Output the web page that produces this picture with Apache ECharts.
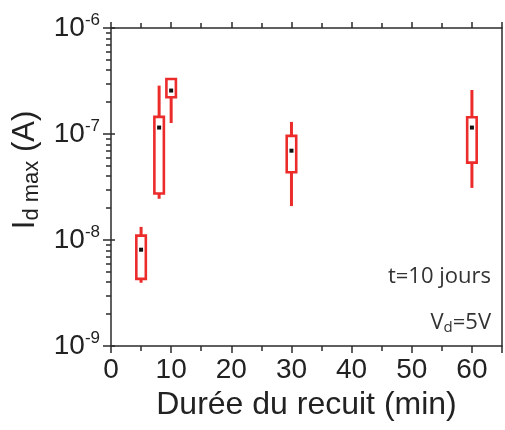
<!DOCTYPE html>
<html><head><meta charset="utf-8">
<script src="https://cdn.jsdelivr.net/npm/echarts@6/dist/echarts.min.js"></script>
<style>html,body{margin:0;padding:0;background:#fff}#c{width:505px;height:430px}</style>
</head><body><div id="c"></div>
<script>
// Data (annealing duration in min; Id max in A)
const durations = [5, 8, 10, 30, 60];
const whiskerLow = [3.95e-9, 2.45e-8, 1.27e-7, 2.09e-8, 3.1e-8];
const boxLow = [4.3e-9, 2.75e-8, 2.22e-7, 4.35e-8, 5.37e-8];
const meanVal = [8.1e-9, 1.15e-7, 2.57e-7, 6.96e-8, 1.15e-7];
const boxHigh = [1.1e-8, 1.45e-7, 3.3e-7, 9.6e-8, 1.44e-7];
const whiskerHigh = [1.33e-8, 2.86e-7, 3.3e-7, 1.3e-7, 2.6e-7];
const majorTicks = [1e-9, 1e-8, 1e-7, 1e-6];
const minorMultipliers = [2, 3, 4, 5, 6, 7, 8, 9];
const xTickLabels = ['0', '10', '20', '30', '40', '50', '60'];

const RED = '#ec2b2b';
const AX = '#2b2b2b';
const FONT = '"Liberation Sans", Arial, sans-serif';

const boxData = durations.map((d, i) => [d, whiskerLow[i], boxLow[i], meanVal[i], boxHigh[i], whiskerHigh[i]]);
const minorTickValues = [];
majorTicks.slice(0, 3).forEach(v => minorMultipliers.forEach(m => minorTickValues.push(v * m)));

const chart = echarts.init(document.getElementById('c'), null, {renderer: 'canvas'});
chart.setOption({
  animation: false,
  grid: {left: 111, right: 2, top: 28, bottom: 84},
  xAxis: [{
    type: 'value', min: 0, max: 65, interval: 10, position: 'bottom',
    axisLine: {show: true, lineStyle: {color: AX, width: 1.5}},
    axisTick: {show: true, inside: false, length: 7, lineStyle: {color: AX, width: 1.5}},
    minorTick: {show: true, splitNumber: 2, length: 5, lineStyle: {color: AX, width: 1.5}},
    splitLine: {show: false},
    axisLabel: {margin: 10, fontSize: 28, color: '#222', fontFamily: FONT,
      formatter: v => xTickLabels[v / 10] !== undefined ? xTickLabels[v / 10] : ''},
    name: 'Durée du recuit (min)', nameLocation: 'middle', nameGap: 38,
    nameTextStyle: {fontSize: 32, color: '#222', fontFamily: FONT}
  }, {
    type: 'value', min: 0, max: 65, interval: 10, position: 'top',
    axisLine: {show: true, lineStyle: {color: AX, width: 1.5}},
    axisTick: {show: true, inside: false, length: 6, lineStyle: {color: AX, width: 1.5}},
    minorTick: {show: true, splitNumber: 2, length: 5, lineStyle: {color: AX, width: 1.5}},
    splitLine: {show: false}, axisLabel: {show: false}
  }],
  yAxis: [{
    type: 'log', logBase: 10, min: 1e-9, max: 1e-6, position: 'left',
    axisLine: {show: true, lineStyle: {color: AX, width: 1.5}},
    axisTick: {show: true, inside: false, length: 8, lineStyle: {color: AX, width: 1.5}},
    splitLine: {show: false},
    axisLabel: {margin: 11, color: '#222', fontFamily: FONT,
      formatter: v => '{b|10}{s|' + Math.round(Math.log10(v)) + '}',
      rich: {b: {fontSize: 28, fontFamily: FONT, color: '#222'},
             s: {fontSize: 17, fontFamily: FONT, color: '#222', padding: [0, 0, 15, 0]}}},
    name: '{a|I}{s|d max}{a| (A)}', nameLocation: 'middle', nameGap: 68,
    nameTextStyle: {padding: [0, 0, 0, 34],
      rich: {a: {fontSize: 31, fontFamily: FONT, color: '#222'},
             s: {fontSize: 22, fontFamily: FONT, color: '#222', padding: [12, 0, 0, 0]}}}
  }, {
    type: 'log', logBase: 10, min: 1e-9, max: 1e-6, position: 'left',
    axisLine: {show: false},
    axisTick: {show: true, inside: false, length: 5, customValues: minorTickValues, lineStyle: {color: AX, width: 1.5}},
    axisLabel: {show: false}, splitLine: {show: false}
  }, {
    type: 'log', logBase: 10, min: 1e-9, max: 1e-6, position: 'left',
    axisLine: {show: false},
    axisTick: {show: true, inside: true, length: 4, lineStyle: {color: AX, width: 1.5}},
    axisLabel: {show: false}, splitLine: {show: false}
  }, {
    type: 'log', logBase: 10, min: 1e-9, max: 1e-6, position: 'right',
    axisLine: {show: true, lineStyle: {color: AX, width: 1.5}},
    axisTick: {show: false}, axisLabel: {show: false}, splitLine: {show: false}
  }],
  series: [{
    type: 'custom', xAxisIndex: 0, yAxisIndex: 0, data: boxData,
    renderItem: (params, api) => {
      const x = api.value(0);
      const pWL = api.coord([x, api.value(1)]);
      const pBL = api.coord([x, api.value(2)]);
      const pM = api.coord([x, api.value(3)]);
      const pBH = api.coord([x, api.value(4)]);
      const pWH = api.coord([x, api.value(5)]);
      const w = 9.5;
      const children = [
        {type: 'line', shape: {x1: pWL[0], y1: pWL[1], x2: pBL[0], y2: pBL[1]}, style: {stroke: RED, lineWidth: 3}},
        {type: 'line', shape: {x1: pBH[0], y1: pBH[1], x2: pWH[0], y2: pWH[1]}, style: {stroke: RED, lineWidth: 3}},
        {type: 'rect', shape: {x: pBH[0] - w / 2, y: pBH[1], width: w, height: pBL[1] - pBH[1]},
          style: {stroke: RED, lineWidth: 2.6, fill: '#fff'}},
        {type: 'rect', shape: {x: pM[0] - 2, y: pM[1] - 2, width: 4, height: 4}, style: {fill: '#111'}}
      ];
      return {type: 'group', children};
    },
    encode: {x: 0, y: [1, 2, 3, 4, 5]}
  }],
  graphic: [
    {type: 'text', right: 14, top: 266, style: {text: 't=10 jours', fontSize: 22, fontFamily: '"Open Sans", sans-serif', fill: '#333'}},
    {type: 'text', right: 14, top: 312, style: {text: '{v|V}{d|d}{v|=5V}', fill: '#333',
      rich: {v: {fontSize: 22, fontFamily: '"Open Sans", sans-serif', fill: '#333'},
             d: {fontSize: 15, fontFamily: '"Open Sans", sans-serif', fill: '#333', padding: [10, 0, 0, 0]}}}}
  ]
});
</script></body></html>
